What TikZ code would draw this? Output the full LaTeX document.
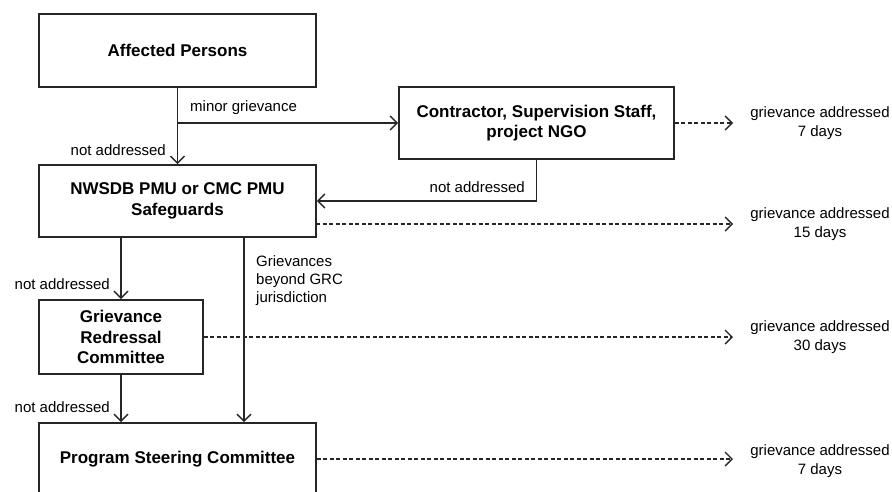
\documentclass[tikz,border=0pt]{standalone}
\usepackage{fontspec}
\setmainfont{Liberation Sans}
\usetikzlibrary{arrows.meta,calc}
\begin{document}
\begin{tikzpicture}[x=1pt,y=-1pt,
  box/.style={draw=black!85,line width=1.6pt,align=center,inner sep=0pt,
    font=\fontsize{17}{20.5}\selectfont\bfseries},
  lbl/.style={inner sep=0pt,font=\fontsize{15}{19}\selectfont},
  arr/.style={draw=black!85,line width=1.5pt,-{Straight Barb[length=7pt,width=14pt,line width=1.5pt]}},
  darr/.style={draw=black!85,line width=1.3pt,dash pattern=on 4pt off 2.5pt,
    -{Straight Barb[length=7pt,width=14pt,line width=1.4pt]}}]
\useasboundingbox (0,0) rectangle (892,491);
\clip (0,0) rectangle (892,491);
\fill[white] (0,0) rectangle (892,491);
% boxes
\node[box,minimum width=277pt,minimum height=73pt] (ap) at (177.5,50.5) {Affected Persons};
\node[box,minimum width=277pt,minimum height=72pt] (nw) at (177.5,201) {NWSDB PMU or CMC PMU\\Safeguards};
\node[box,minimum width=275pt,minimum height=72pt] (ct) at (536.5,123) {Contractor, Supervision Staff,\\project NGO};
\node[box,minimum width=164pt,minimum height=74pt] (grc) at (121,337) {Grievance\\Redressal\\Committee};
\node[box,minimum width=277pt,minimum height=72pt] (psc) at (177.5,459) {Program Steering Committee};
% right labels
\node[lbl,align=center] (g1) at (820,123) {grievance addressed\\7 days};
\node[lbl,align=center] (g2) at (820,224) {grievance addressed\\15 days};
\node[lbl,align=center] (g3) at (820,337.5) {grievance addressed\\30 days};
\node[lbl,align=center] (g4) at (820,461) {grievance addressed\\7 days};
% coordinates
\coordinate (split) at (ap.south |- ct.west);
\coordinate (nwd) at (316,224);
\coordinate (nwb) at (244,237);
\coordinate (t1) at (733,123);
\coordinate (t2) at (733,224);
\coordinate (t3) at (733,337);
\coordinate (t4) at (733,459);
% solid connectors
\draw[arr] (ap.south) -- (nw.north);
\draw[arr] (split) -- (ct.west);
\draw[arr] (ct.south) |- (nw.east);
\draw[arr] (nw.south -| grc.north) -- (grc.north);
\draw[arr] (nwb) -- (nwb |- psc.north);
\draw[arr] (grc.south) -- (grc.south |- psc.north);
% dashed connectors
\draw[darr] (ct.east) -- (t1);
\draw[darr] (nwd) -- (t2);
\draw[darr] (grc.east) -- (t3);
\draw[darr] (psc.east) -- (t4);
% connector labels
\node[lbl,anchor=west] (mg) at (190,108) {minor grievance};
\node[lbl,anchor=east] (na1) at (166,150) {not addressed};
\node[lbl,anchor=east] (na2) at (525,187) {not addressed};
\node[lbl,anchor=east] (na3) at (110,284) {not addressed};
\node[lbl,anchor=east] (na4) at (110,407) {not addressed};
\node[lbl,anchor=north west,align=left,font=\fontsize{15}{18}\selectfont] (gb) at (256,255) {Grievances\\beyond GRC\\jurisdiction};
\end{tikzpicture}
\end{document}
